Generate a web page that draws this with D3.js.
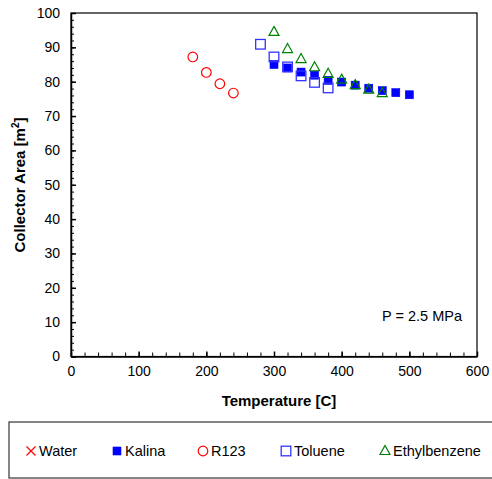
<!DOCTYPE html>
<html>
<head>
<meta charset="utf-8">
<script src="https://cdn.jsdelivr.net/npm/d3@7"></script>
<style>
  body { margin: 0; background: #fff; }
  svg text { font-family: "Liberation Sans", Arial, sans-serif; fill: #000; }
  .axis path, .axis line { stroke: #000; }
</style>
</head>
<body>
<svg class="chart"></svg>
<script>
// series data, [temperature C, collector area m2]
var water = [];
var kalina = [[300, 85.0], [320, 84.0], [340, 82.8], [360, 81.9], [380, 80.4], [400, 79.9],
  [420, 79.0], [440, 78.1], [460, 77.4], [480, 76.8], [500, 76.2]];
var r123 = [[180, 87.2], [200, 82.7], [220, 79.4], [240, 76.7]];
var toluene = [[280, 90.9], [300, 87.2], [320, 84.3], [340, 81.7], [360, 79.8], [380, 78.2]];
var ethylbenzene = [[300, 94.5], [320, 89.5], [340, 86.6], [360, 84.2], [380, 82.3], [400, 80.6],
  [420, 79.0], [440, 77.7], [460, 76.7]];

var xTicks = [0, 100, 200, 300, 400, 500, 600];
var yTicks = [0, 10, 20, 30, 40, 50, 60, 70, 80, 90, 100];
var legendNames = ["Water", "Kalina", "R123", "Toluene", "Ethylbenzene"];

function drawChart() {
  var W = 492, H = 479;
  var svg = d3.select(".chart").attr("width", W).attr("height", H);

  var xScale = d3.scaleLinear().domain([0, 600]).range([71, 477]);
  var yScale = d3.scaleLinear().domain([0, 100]).range([356.5, 13]);

  // frame
  svg.append("rect")
    .attr("x", 71).attr("y", 13)
    .attr("width", 406).attr("height", 343.5)
    .attr("fill", "none").attr("stroke", "#000").attr("stroke-width", 1.2);

  // minor ticks
  svg.append("g").attr("class", "axis")
    .attr("transform", "translate(0," + 356.5 + ")")
    .call(d3.axisBottom(xScale).tickValues(d3.range(0, 601, 20)).tickSizeInner(-4).tickSizeOuter(0).tickFormat(""))
    .select(".domain").remove();
  svg.append("g").attr("class", "axis")
    .attr("transform", "translate(71,0)")
    .call(d3.axisLeft(yScale).tickValues(d3.range(0, 101, 2)).tickSizeInner(-3).tickSizeOuter(0).tickFormat(""))
    .select(".domain").remove();

  // major ticks + labels
  var xAxis = svg.append("g").attr("class", "axis")
    .attr("transform", "translate(0," + 356.5 + ")")
    .call(d3.axisBottom(xScale).tickValues(xTicks).tickSizeInner(-5).tickSizeOuter(0).tickPadding(10));
  xAxis.select(".domain").attr("stroke-width", 1.5);
  xAxis.selectAll("line").attr("stroke-width", 1.5);
  xAxis.selectAll("text").attr("font-size", 14).attr("font-family", "Liberation Sans, Arial, sans-serif");

  var yAxis = svg.append("g").attr("class", "axis")
    .attr("transform", "translate(71,0)")
    .call(d3.axisLeft(yScale).tickValues(yTicks).tickSizeInner(-5).tickSizeOuter(0).tickPadding(11));
  yAxis.select(".domain").attr("stroke-width", 1.5);
  yAxis.selectAll("line").attr("stroke-width", 1.5);
  yAxis.selectAll("text").attr("font-size", 14).attr("font-family", "Liberation Sans, Arial, sans-serif");

  // axis titles
  svg.append("text")
    .attr("x", 279).attr("y", 406)
    .attr("text-anchor", "middle")
    .attr("font-size", 15).attr("font-weight", "bold")
    .text("Temperature [C]");

  var yl = svg.append("text")
    .attr("transform", "translate(25,185) rotate(-90)")
    .attr("text-anchor", "middle")
    .attr("font-size", 15).attr("font-weight", "bold");
  yl.append("tspan").text("Collector Area [m");
  yl.append("tspan").attr("dy", -6).attr("font-size", 10).text("2");
  yl.append("tspan").attr("dy", 6).text("]");

  svg.append("text")
    .attr("x", 462).attr("y", 321)
    .attr("text-anchor", "end")
    .attr("font-size", 14.5)
    .text("P = 2.5 MPa");

  var plot = svg.append("g");

  // markers
  function drawMarker(g, kind, cx, cy) {
    if (kind == "Water") {
      g.append("path").attr("d", "M" + (cx - 4.5) + "," + (cy - 4.5) + "L" + (cx + 4.5) + "," + (cy + 4.5) +
        "M" + (cx + 4.5) + "," + (cy - 4.5) + "L" + (cx - 4.5) + "," + (cy + 4.5))
        .attr("stroke", "#ff0000").attr("stroke-width", 1.2).attr("fill", "none");
    }
    if (kind == "Kalina") {
      g.append("rect").attr("x", cx - 4).attr("y", cy - 4).attr("width", 8).attr("height", 8)
        .attr("fill", "#0000ff").attr("stroke", "#0000ff").attr("stroke-width", 0.6);
    }
    if (kind == "R123") {
      g.append("circle").attr("cx", cx).attr("cy", cy).attr("r", 4.8)
        .attr("fill", "none").attr("stroke", "#ff0000").attr("stroke-width", 1.2);
    }
    if (kind == "Toluene") {
      g.append("rect").attr("x", cx - 4.8).attr("y", cy - 4.8).attr("width", 9.6).attr("height", 9.6)
        .attr("fill", "none").attr("stroke", "#3333ff").attr("stroke-width", 1.3);
    }
    if (kind == "Ethylbenzene") {
      g.append("path").attr("d", "M" + cx + "," + (cy - 5.5) + "L" + (cx + 5) + "," + (cy + 3.5) +
        "L" + (cx - 5) + "," + (cy + 3.5) + "Z")
        .attr("fill", "none").attr("stroke", "#008000").attr("stroke-width", 1.2);
    }
  }

  var seriesList = [["Water", water], ["Kalina", kalina], ["R123", r123], ["Toluene", toluene], ["Ethylbenzene", ethylbenzene]];
  seriesList.forEach(function(s) {
    var g = plot.append("g").attr("class", "series-" + s[0]);
    s[1].forEach(function(d) {
      drawMarker(g, s[0], xScale(d[0]), yScale(d[1]));
    });
  });

  // legend
  svg.append("rect")
    .attr("x", 9).attr("y", 422)
    .attr("width", 500).attr("height", 56)
    .attr("fill", "none").attr("stroke", "#444").attr("stroke-width", 1.3);

  var legendX = [31, 117, 203, 286, 385];
  legendNames.forEach(function(name, i) {
    var g = svg.append("g");
    drawMarker(g, name, legendX[i], 451);
    g.append("text")
      .attr("x", legendX[i] + 8).attr("y", 456)
      .attr("font-size", 14.5)
      .text(name);
  });
}

drawChart();
</script>
</body>
</html>
